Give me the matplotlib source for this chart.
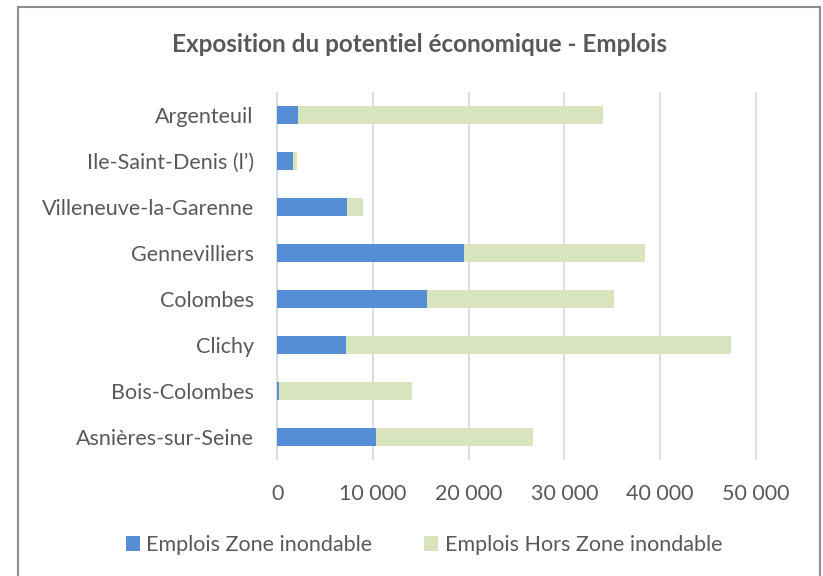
import matplotlib.pyplot as plt
from matplotlib.patches import Rectangle
from matplotlib.ticker import FuncFormatter

plt.rcParams['font.family'] = ['Lato', 'DejaVu Sans']

# data, top to bottom as shown
communes = ['Argenteuil', 'Ile-Saint-Denis (l’)', 'Villeneuve-la-Garenne', 'Gennevilliers',
            'Colombes', 'Clichy', 'Bois-Colombes', 'Asnières-sur-Seine']
zone_inondable = [2180, 1660, 7270, 19560, 15610, 7170, 170, 10280]
hors_zone = [31850, 420, 1730, 18830, 19630, 40250, 13850, 16410]

blue = '#558ED5'
green = '#D7E4BD'
txt = '#595959'

fig = plt.figure(figsize=(8.23, 5.76), dpi=100)
# outer chart frame
fig.patches.append(Rectangle((18 / 823, -0.05), 802 / 823, 1 - 7 / 576 + 0.05,
                             transform=fig.transFigure, fill=False,
                             edgecolor='#8c8c8c', linewidth=1.5))

ax = fig.add_axes([276 / 823, 1 - 460 / 576, (757 - 276) / 823, 368 / 576])

y = list(range(len(communes)))
ax.barh(y, zone_inondable, height=0.39, color=blue, label='Emplois Zone inondable', zorder=3)
ax.barh(y, hors_zone, left=zone_inondable, height=0.39, color=green,
        label='Emplois Hors Zone inondable', zorder=3)

ax.set_ylim(len(communes) - 0.5, -0.5)
ax.set_yticks(y)
ax.set_yticklabels(communes)
ax.set_xticks(range(0, 50001, 10000))
ax.xaxis.set_major_formatter(FuncFormatter(lambda v, p: f'{int(v):,}'.replace(',', '\u2009\u2009')))
ax.grid(axis='x', color='#D9D9D9', linewidth=1.3, zorder=0)
ax.set_axisbelow(True)
for s in ax.spines.values():
    s.set_visible(False)
ax.tick_params(length=0, labelsize=15.5, labelcolor=txt)
ax.tick_params(axis='x', pad=17)
ax.tick_params(axis='y', pad=16)
ax.set_xlim(-150, 50150)

fig.text(420 / 823, 1 - 45 / 576, 'Exposition du potentiel économique - Emplois',
         ha='center', va='center', fontsize=17.5, fontweight='bold', color=txt)

fig.legend(loc='center', bbox_to_anchor=(424 / 823, 1 - 545 / 576), ncol=2, frameon=False,
           fontsize=15.5, labelcolor=txt, handlelength=0.65, handleheight=0.65,
           handletextpad=0.3, columnspacing=2.4)

fig.savefig('out.png', dpi=100)
